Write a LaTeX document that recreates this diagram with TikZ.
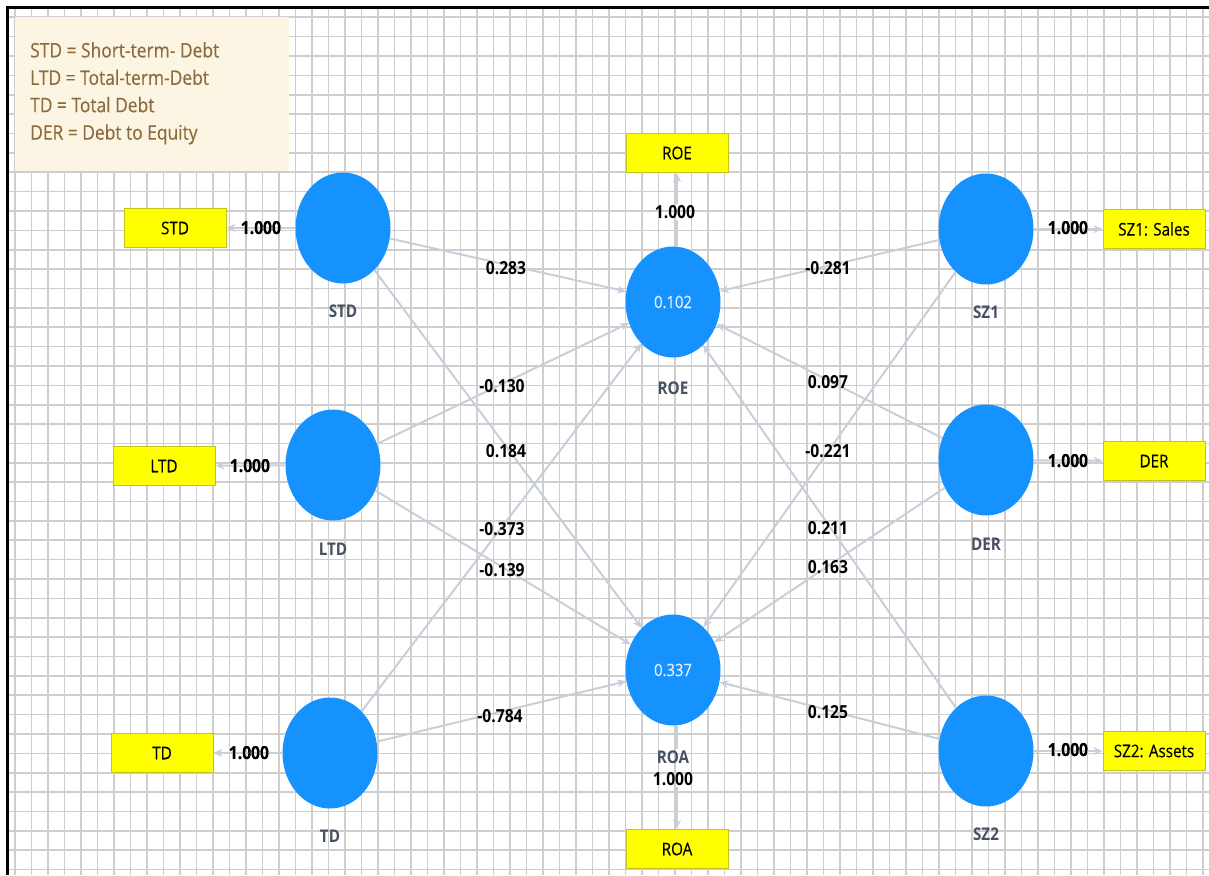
\documentclass[tikz,border=0pt]{standalone}
\usepackage{fontspec}
\setmainfont{Open Sans}[FakeStretch=0.87]
\newfontfamily\legfont{Open Sans}[FakeStretch=0.87, FakeBold=0.3]
\usetikzlibrary{shapes.geometric,arrows.meta}
\definecolor{gridc}{RGB}{206,206,206}
\definecolor{blob}{RGB}{22,146,255}
\definecolor{pathc}{RGB}{200,206,218}
\definecolor{ybox}{RGB}{255,255,0}
\definecolor{yborder}{RGB}{196,196,30}
\definecolor{legfill}{RGB}{253,245,227}
\definecolor{legtext}{RGB}{140,108,60}
\definecolor{lvnamec}{RGB}{70,80,96}
\definecolor{r2c}{RGB}{232,240,255}
\begin{document}
\begin{tikzpicture}[x=1pt,y=-1pt,
  lv/.style={ellipse, fill=blob, draw=none, minimum width=95pt, minimum height=111pt, inner sep=0pt, text=r2c, font=\legfont\fontsize{17}{20}\selectfont},
  ind/.style={rectangle, fill=ybox, draw=yborder, line width=1pt, minimum width=102pt, minimum height=39pt, inner sep=0pt, font=\legfont\fontsize{17.5}{20}\selectfont},
  lvname/.style={text=lvnamec, inner sep=1pt, font=\bfseries\fontsize{17.5}{20}\selectfont},
  conn/.style={draw=pathc, line width=2pt, -{Stealth[length=9pt,width=8pt]}},
  plain/.style={draw=pathc, line width=2pt},
  coef/.style={font=\bfseries\fontsize{18}{20}\selectfont, text=black, inner sep=1pt},
]
\useasboundingbox (0,0) rectangle (1209,875);
% grid
\begin{scope}
\clip (7,8) rectangle (1209,875);
\foreach \i in {0,...,72} \draw[gridc, line width=1.6pt] (15+16.5*\i,8) -- (15+16.5*\i,875);
\foreach \j in {0,...,44} \draw[gridc, line width=1.6pt] (7,17.3+19.37*\j) -- (1209,17.3+19.37*\j);
\end{scope}
% frame
\draw[black, line width=3pt] (7,875) -- (7,8) -- (1209,8);
% legend
\fill[legfill] (15,17) rectangle (289,171);
\node[anchor=north west, align=left, inner sep=0pt, text=legtext, font=\legfont\fontsize{20}{27.4}\selectfont] (legend) at (30,42) {STD = Short-term- Debt\\LTD = Total-term-Debt\\TD = Total Debt\\DER = Debt to Equity};
% latent variables
\node[lv] (std) at (343,228) {};
\node[lv] (ltd) at (333,465) {};
\node[lv] (td) at (330,753) {};
\node[lv] (roe) at (673,302) {0.102};
\node[lv] (roa) at (673,670) {0.337};
\node[lv] (sz1) at (986,229) {};
\node[lv] (der) at (986,460) {};
\node[lv] (sz2) at (986,751) {};
% names
\node[lvname] (stdn) at (343,311) {STD};
\node[lvname] (ltdn) at (333,549) {LTD};
\node[lvname] (tdn) at (330,836) {TD};
\node[lvname] (roen) at (673,388) {ROE};
\node[lvname] (roan) at (673,757) {ROA};
\node[lvname] (sz1n) at (986,312) {SZ1};
\node[lvname] (dern) at (986,544) {DER};
\node[lvname] (sz2n) at (986,834) {SZ2};
% indicators
\node[ind] (stdb) at (175,228) {STD};
\node[ind] (ltdb) at (164,466) {LTD};
\node[ind] (tdb) at (162,753) {TD};
\node[ind] (roeb) at (677,153) {ROE};
\node[ind] (roab) at (677,849) {ROA};
\node[ind] (sz1b) at (1154,229) {SZ1: Sales};
\node[ind] (derb) at (1154,461) {DER};
\node[ind] (sz2b) at (1154,751) {SZ2: Assets};
% coefficient label nodes (placed first so lines can reference them)
\node[coef] (l1) at (261,228) {1.000};
\node[coef] (l2) at (250,466) {1.000};
\node[coef] (l3) at (249,753) {1.000};
\node[coef] (l4) at (675,212) {1.000};
\node[coef] (l5) at (673,779) {1.000};
\node[coef] (l6) at (1068,228) {1.000};
\node[coef] (l7) at (1068,461) {1.000};
\node[coef] (l8) at (1068,750) {1.000};
% loadings
\draw[conn] (std) -- (stdb);
\draw[conn] (ltd) -- (ltdb);
\draw[conn] (td) -- (tdb);
\draw[plain] (roeb.south |- roe.north) -- (roeb.south |- l4.south);
\draw[conn] (roeb.south |- l4.north) -- (roeb.south);
\draw[plain] (roab.north |- roa.south) -- (roab.north |- roan.north);
\draw[conn] (roab.north |- l5.south) -- (roab.north);
\draw[conn] (sz1) -- (sz1b);
\draw[conn] (der) -- (derb);
\draw[conn] (sz2) -- (sz2b);
% structural paths
\draw[conn] (std) -- (roe);
\draw[conn] (std) -- (roa);
\draw[conn] (ltd) -- (roe);
\draw[conn] (ltd) -- (roa);
\draw[conn] (td) -- (roe);
\draw[conn] (td) -- (roa);
\draw[conn] (sz1) -- (roe);
\draw[conn] (sz1) -- (roa);
\draw[conn] (der) -- (roe);
\draw[conn] (der) -- (roa);
\draw[conn] (sz2) -- (roe);
\draw[conn] (sz2) -- (roa);
% redraw loading labels on top
\node[coef] at (l1) {1.000};
\node[coef] at (l2) {1.000};
\node[coef] at (l3) {1.000};
\node[coef] at (l6) {1.000};
\node[coef] at (l7) {1.000};
\node[coef] at (l8) {1.000};
% path coefficients
\node[coef] (c1) at (506,268) {0.283};
\node[coef] (c2) at (506,451) {0.184};
\node[coef] (c3) at (502,386) {-0.130};
\node[coef] (c4) at (502,570) {-0.139};
\node[coef] (c5) at (502,529) {-0.373};
\node[coef] (c6) at (500,716) {-0.784};
\node[coef] (c7) at (828,268) {-0.281};
\node[coef] (c8) at (828,451) {-0.221};
\node[coef] (c9) at (828,382) {0.097};
\node[coef] (c10) at (828,567) {0.163};
\node[coef] (c11) at (828,528) {0.211};
\node[coef] (c12) at (828,712) {0.125};
\end{tikzpicture}
\end{document}
